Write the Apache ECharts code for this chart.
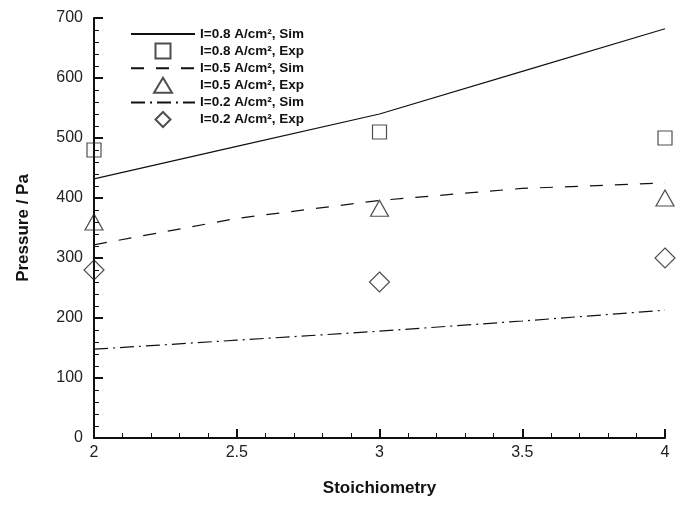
<!DOCTYPE html>
<html>
<head>
<meta charset="utf-8">
<script src="https://cdn.jsdelivr.net/npm/echarts@6/dist/echarts.min.js"></script>
<style>
html, body { margin: 0; padding: 0; background: #fff; }
#chart { width: 686px; height: 505px; }
</style>
</head>
<body>
<div id="chart"></div>
<script>
var stoich = [2, 2.5, 3, 3.5, 4]
var stoichExp = [2, 3, 4]

var sim08 = [432, 486, 540, 611, 682]
var sim05 = [322, 366, 396, 416, 425]
var sim02 = [148, 163, 178, 195, 213]

var exp08 = [480, 510, 500]
var exp05 = [360, 383, 400]
var exp02 = [280, 260, 300]

var names = ['I=0.8 A/cm², Sim', 'I=0.8 A/cm², Exp', 'I=0.5 A/cm², Sim',
             'I=0.5 A/cm², Exp', 'I=0.2 A/cm², Sim', 'I=0.2 A/cm², Exp']

var squarePath = 'path://M0,0L10,0L10,10L0,10Z'
var trianglePath = 'path://M6,0L12,10L0,10Z'
var diamondPath = 'path://M7,0L14,7L7,14L0,7Z'

function pairs(xs, ys) {
    var out = []
    for (var i in xs) {
        out.push([xs[i], ys[i]])
    }
    return out
}

function simSeries(name, ys, dash) {
    return {
        name: name,
        type: 'line',
        data: pairs(stoich, ys),
        symbol: 'none',
        lineStyle: { color: '#111', width: 1.2, type: dash },
        itemStyle: { color: '#111' },
        z: 2
    }
}

function expSeries(name, ys, sym, size) {
    return {
        name: name,
        type: 'scatter',
        data: pairs(stoichExp, ys),
        symbol: sym,
        symbolSize: size,
        clip: false,
        itemStyle: { color: 'rgba(255,255,255,0)', borderColor: '#222', borderWidth: 1.2 },
        z: 3
    }
}

var noMark = { color: 'rgba(0,0,0,0)', borderWidth: 0 }

var chart = echarts.init(document.getElementById('chart'))
var option = {
    animation: false,
    backgroundColor: '#fff',
    grid: { left: 94, right: 21, top: 18, bottom: 67 },
    legend: {
        orient: 'vertical',
        left: 125,
        top: 22,
        itemWidth: 64,
        itemHeight: 15,
        itemGap: 1.6,
        symbolKeepAspect: true,
        data: [
            { name: names[0], itemStyle: noMark },
            { name: names[1], icon: squarePath },
            { name: names[2], itemStyle: noMark },
            { name: names[3], icon: trianglePath },
            { name: names[4], itemStyle: noMark },
            { name: names[5], icon: diamondPath }
        ],
        textStyle: {
            fontFamily: 'Liberation Sans, Arial, sans-serif',
            fontWeight: 'bold',
            fontSize: 13.5,
            color: '#111'
        }
    },
    xAxis: {
        type: 'value',
        min: 2,
        max: 4,
        interval: 0.5,
        name: 'Stoichiometry',
        nameLocation: 'middle',
        nameGap: 42,
        nameTextStyle: { fontFamily: 'Liberation Sans, Arial, sans-serif', fontWeight: 'bold', fontSize: 17, color: '#111' },
        axisLine: { lineStyle: { color: '#111', width: 2 } },
        axisTick: { inside: true, length: 9, lineStyle: { color: '#111', width: 2 } },
        minorTick: { show: true, splitNumber: 5, length: 5, lineStyle: { color: '#111', width: 1 } },
        splitLine: { show: false },
        axisLabel: {
            margin: 7,
            fontFamily: 'Liberation Sans, Arial, sans-serif',
            fontSize: 16,
            color: '#222',
            formatter: function (v) { return String(v) }
        }
    },
    yAxis: {
        type: 'value',
        min: 0,
        max: 700,
        interval: 100,
        name: 'Pressure / Pa',
        nameLocation: 'middle',
        nameGap: 62,
        nameTextStyle: { fontFamily: 'Liberation Sans, Arial, sans-serif', fontWeight: 'bold', fontSize: 17, color: '#111' },
        axisLine: { show: true, lineStyle: { color: '#111', width: 2 } },
        axisTick: { show: true, inside: true, length: 9, lineStyle: { color: '#111', width: 2 } },
        minorTick: { show: true, splitNumber: 5, length: 5, lineStyle: { color: '#111', width: 1 } },
        splitLine: { show: false },
        axisLabel: {
            margin: 11,
            fontFamily: 'Liberation Sans, Arial, sans-serif',
            fontSize: 16,
            color: '#222'
        }
    },
    series: [
        simSeries(names[0], sim08, 'solid'),
        expSeries(names[1], exp08, 'rect', 14),
        simSeries(names[2], sim05, [13, 12]),
        expSeries(names[3], exp05, 'triangle', [18, 16]),
        simSeries(names[4], sim02, [14, 5, 2, 5]),
        expSeries(names[5], exp02, 'diamond', [20, 20])
    ]
}
chart.setOption(option)
</script>
</body>
</html>
